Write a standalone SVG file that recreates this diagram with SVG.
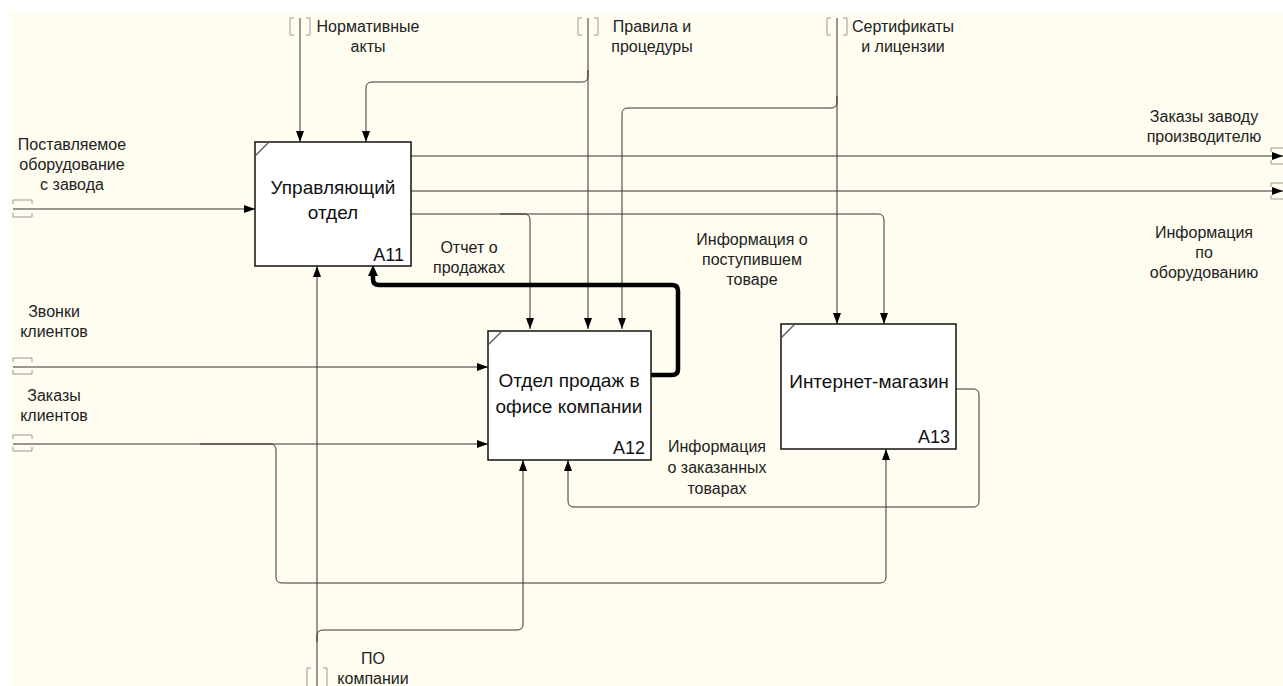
<svg xmlns="http://www.w3.org/2000/svg" width="1283" height="686" viewBox="0 0 1283 686">
<defs>
<style>
.bg{fill:#fefdef}
.box{fill:#ffffff;stroke:#111;stroke-width:1.5}
.diag{stroke:#555;stroke-width:1.2;fill:none}
.ln{fill:none;stroke:#333;stroke-width:1}
.thick{fill:none;stroke:#000;stroke-width:4.5;stroke-linejoin:round}
.br{fill:none;stroke:#999;stroke-width:1}
.lbl{font-family:"Liberation Sans",Arial,sans-serif;font-size:16px;fill:#222;text-anchor:middle}
.ttl{font-family:"Liberation Sans",Arial,sans-serif;font-size:19px;fill:#111;text-anchor:middle}
.num{font-family:"Liberation Sans",Arial,sans-serif;font-size:18px;fill:#111;text-anchor:end}
</style>
<marker id="ar" markerUnits="userSpaceOnUse" markerWidth="11" markerHeight="8" refX="11" refY="4" orient="auto">
<path d="M0,0 L11,4 L0,8 z" fill="#000"/>
</marker>
</defs>
<rect x="0" y="0" width="1283" height="686" fill="#ffffff"/>
<rect class="bg" x="10" y="12" width="1273" height="674"/>

<g id="connectors">
<!-- Нормативные акты -->
<path class="ln" d="M300,18 L300,142" marker-end="url(#ar)"/>
<!-- Правила и процедуры -->
<path class="ln" d="M588,18 L588,329" marker-end="url(#ar)"/>
<path class="ln" d="M588,70 L588,76 Q588,82 582,82 L372,82 Q366,82 366,88 L366,142" marker-end="url(#ar)"/>
<!-- Сертификаты и лицензии -->
<path class="ln" d="M837,18 L837,324" marker-end="url(#ar)"/>
<path class="ln" d="M837,96 L837,102 Q837,108 831,108 L628,108 Q622,108 622,114 L622,329" marker-end="url(#ar)"/>
<!-- Поставляемое оборудование -->
<path class="ln" d="M13,209 L255,209" marker-end="url(#ar)"/>
<!-- A11 outputs -->
<path class="ln" d="M411,156 L1283,156" marker-end="url(#ar)"/>
<path class="ln" d="M411,191 L1283,191" marker-end="url(#ar)"/>
<path class="ln" d="M411,214 L878,214 Q884,214 884,220 L884,324" marker-end="url(#ar)"/>
<path class="ln" d="M500,214 L524,214 Q530,214 530,220 L530,329" marker-end="url(#ar)"/>
<!-- Отчет о продажах (thick) -->
<path class="thick" d="M651,375 L672,375 Q678,375 678,369 L678,291 Q678,285 672,285 L379,285 Q373,285 373,279 L373,275"/>
<path d="M373,265 L368,276 L378,276 z" fill="#000"/>
<!-- Звонки клиентов -->
<path class="ln" d="M13,367 L488,367" marker-end="url(#ar)"/>
<!-- Заказы клиентов -->
<path class="ln" d="M13,444 L488,444" marker-end="url(#ar)"/>
<path class="ln" d="M200,444 L270,444 Q276,444 276,450 L276,577 Q276,583 282,583 L880,583 Q886,583 886,577 L886,449" marker-end="url(#ar)"/>
<!-- A13 -> A12 feedback -->
<path class="ln" d="M956,389 L973,389 Q979,389 979,395 L979,501 Q979,507 973,507 L574,507 Q568,507 568,501 L568,460" marker-end="url(#ar)"/>
<!-- ПО компании -->
<path class="ln" d="M317,686 L317,266" marker-end="url(#ar)"/>
<path class="ln" d="M317,642 L317,636 Q317,630 323,630 L517,630 Q523,630 523,624 L523,460" marker-end="url(#ar)"/>

<!-- tunnel brackets -->
<path class="br" d="M294,18 h-4 v17 h4 M306,18 h4 v17 h-4"/>
<path class="br" d="M582,18 h-4 v17 h4 M594,18 h4 v17 h-4"/>
<path class="br" d="M831,18 h-4 v17 h4 M843,18 h4 v17 h-4"/>
<path class="br" d="M13,204 v-4 h19 v4 M13,213 v4 h19 v-4"/>
<path class="br" d="M13,362 v-4 h19 v4 M13,370 v4 h19 v-4"/>
<path class="br" d="M13,439 v-4 h19 v4 M13,447 v4 h19 v-4"/>
<path class="br" d="M1271,152 v-4 h12 M1271,160 v4 h12"/>
<path class="br" d="M1271,187 v-4 h12 M1271,195 v4 h12"/>
<path class="br" d="M311,668 h-4 v18 M323,668 h4 v18"/>
</g>

<g id="A11">
<rect class="box" x="255" y="142" width="156" height="124"/>
<path class="diag" d="M255,156 L269,142"/>
<text class="ttl" x="333" y="194">Управляющий</text>
<text class="ttl" x="333" y="219">отдел</text>
<text class="num" x="404" y="261">A11</text>
</g>

<g id="A12">
<rect class="box" x="488" y="331" width="163" height="129"/>
<path class="diag" d="M488,345 L502,331"/>
<text class="ttl" x="569" y="387">Отдел продаж в</text>
<text class="ttl" x="569" y="413">офисе компании</text>
<text class="num" x="645" y="454">A12</text>
</g>

<g id="A13">
<rect class="box" x="781" y="324" width="175" height="125"/>
<path class="diag" d="M781,338 L795,324"/>
<text class="ttl" x="869" y="388">Интернет-магазин</text>
<text class="num" x="950" y="443">A13</text>
</g>

<g id="labels">
<text class="lbl" x="368" y="32">Нормативные</text>
<text class="lbl" x="368" y="52">акты</text>
<text class="lbl" x="652" y="32">Правила и</text>
<text class="lbl" x="652" y="52">процедуры</text>
<text class="lbl" x="903" y="32">Сертификаты</text>
<text class="lbl" x="903" y="52">и лицензии</text>
<text class="lbl" x="72" y="150">Поставляемое</text>
<text class="lbl" x="72" y="170">оборудование</text>
<text class="lbl" x="72" y="190">с завода</text>
<text class="lbl" x="1204" y="122">Заказы заводу</text>
<text class="lbl" x="1204" y="142">производителю</text>
<text class="lbl" x="1204" y="238">Информация</text>
<text class="lbl" x="1204" y="258">по</text>
<text class="lbl" x="1204" y="278">оборудованию</text>
<text class="lbl" x="752" y="245">Информация о</text>
<text class="lbl" x="752" y="265">поступившем</text>
<text class="lbl" x="752" y="285">товаре</text>
<text class="lbl" x="469" y="253">Отчет о</text>
<text class="lbl" x="469" y="273">продажах</text>
<text class="lbl" x="54" y="317">Звонки</text>
<text class="lbl" x="54" y="337">клиентов</text>
<text class="lbl" x="54" y="401">Заказы</text>
<text class="lbl" x="54" y="421">клиентов</text>
<text class="lbl" x="717" y="452">Информация</text>
<text class="lbl" x="717" y="473">о заказанных</text>
<text class="lbl" x="717" y="494">товарах</text>
<text class="lbl" x="373" y="664">ПО</text>
<text class="lbl" x="373" y="684">компании</text>
</g>
</svg>
